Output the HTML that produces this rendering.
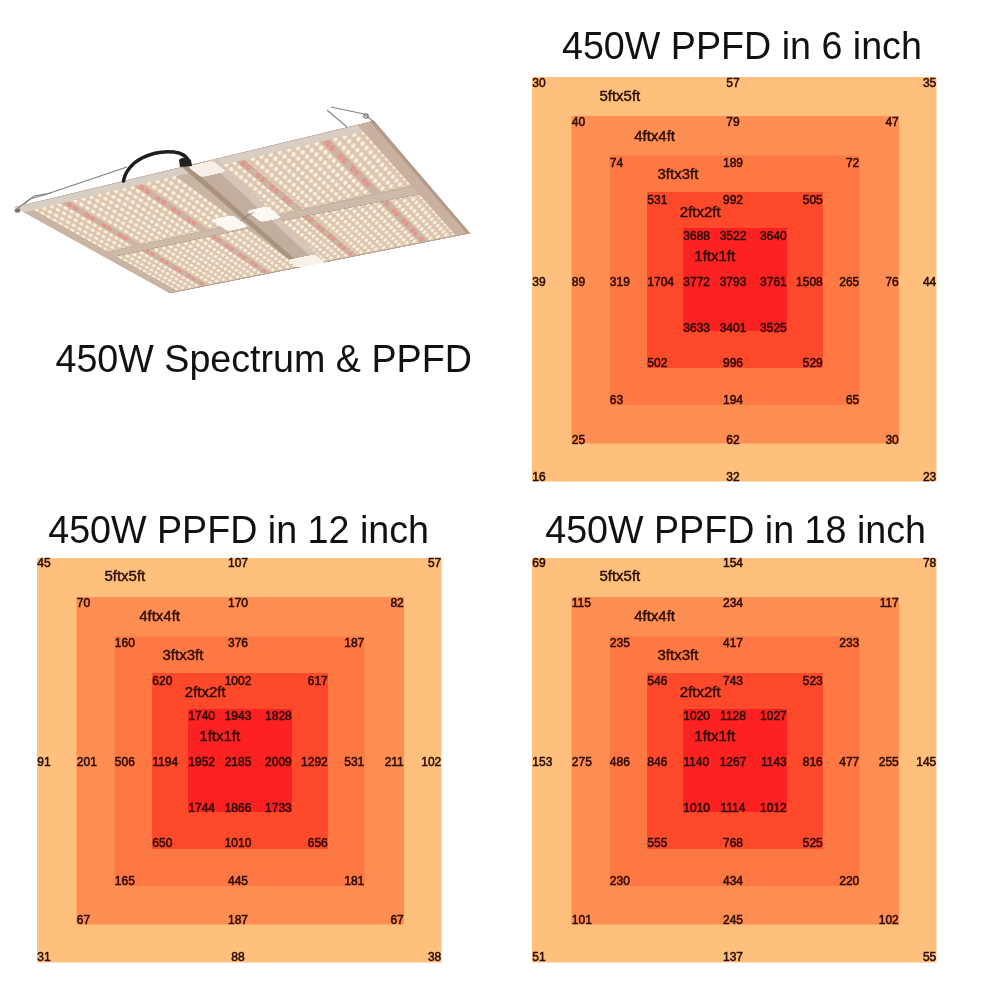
<!DOCTYPE html>
<html><head><meta charset="utf-8"><style>
html,body{margin:0;padding:0;background:#fff;}
body{width:1000px;height:1000px;position:relative;overflow:hidden;font-family:"Liberation Sans",Arial,sans-serif;}
.ch{position:absolute;overflow:visible;}
.ch text{font-family:"Liberation Sans",Arial,sans-serif;}
.n text{font-size:12px;fill:#2a0a02;stroke:#2a0a02;stroke-width:0.5px;}
.nm text{font-size:15px;fill:#2a0a02;stroke:#2a0a02;stroke-width:0.4px;}
#panel{position:absolute;left:0;top:0;width:400px;height:400px;transform-origin:0 0;transform:matrix3d(0.7966528,-0.2495477,0,-0.000276329,0.4892369,0.3875796,0,0.000583746,0,0,1,0,14.0000,207.0000,0,1);}
#panel svg{display:block;filter:blur(0.45px);}
#ov{position:absolute;left:0;top:0;}
#tt{position:absolute;left:0;top:0;}
#tt text{font-family:"Liberation Sans",Arial,sans-serif;font-size:37.65px;fill:#111;}
</style></head><body>
<div id="panel"><svg width="400" height="400" viewBox="0 0 400 400">
<defs>
<radialGradient id="lg"><stop offset="0" stop-color="#fffbf0"/><stop offset="0.6" stop-color="#fdeed6"/><stop offset="1" stop-color="#f7e0c2"/></radialGradient>
<radialGradient id="rg"><stop offset="0" stop-color="#ffb0a8"/><stop offset="0.45" stop-color="#f08078"/><stop offset="1" stop-color="#e0968a" stop-opacity="0"/></radialGradient>
<pattern id="led" x="0" y="2" width="9.7" height="13.5" patternUnits="userSpaceOnUse"><g transform="matrix(0.952,0.694,-1.252,3.194,4.85,6.75)"><circle r="2.05" fill="#f6e5ce"/><circle r="1.8" fill="url(#lg)"/></g></pattern>
</defs>
<rect x="0" y="0" width="400" height="400" fill="#cab5a4"/>
<rect x="0" y="0" width="400" height="20" fill="#d9cec4"/>
<rect x="0" y="0" width="400" height="2.5" fill="#c4b7ac"/>
<rect x="383" y="0" width="17" height="400" fill="#c9b09f"/>
<rect x="396" y="0" width="4" height="400" fill="#b29b8b"/>
<rect x="0" y="395" width="400" height="5" fill="#b8a698"/>
<rect x="13" y="20" width="169" height="174" fill="#dac5b1"/>
<rect x="13" y="20" width="169" height="174" fill="url(#led)"/>
<rect x="47" y="20" width="10" height="174" fill="#cdb3a1"/>
<g transform="matrix(0.952,0.694,-1.252,3.194,52,28.75)"><circle r="2.6" fill="url(#rg)"/></g>
<g transform="matrix(0.952,0.694,-1.252,3.194,52,42.25)"><circle r="2.6" fill="url(#rg)"/></g>
<g transform="matrix(0.952,0.694,-1.252,3.194,52,69.25)"><circle r="2.6" fill="url(#rg)"/></g>
<g transform="matrix(0.952,0.694,-1.252,3.194,52,82.75)"><circle r="2.6" fill="url(#rg)"/></g>
<g transform="matrix(0.952,0.694,-1.252,3.194,52,109.75)"><circle r="2.6" fill="url(#rg)"/></g>
<g transform="matrix(0.952,0.694,-1.252,3.194,52,123.25)"><circle r="2.6" fill="url(#rg)"/></g>
<g transform="matrix(0.952,0.694,-1.252,3.194,52,150.25)"><circle r="2.6" fill="url(#rg)"/></g>
<g transform="matrix(0.952,0.694,-1.252,3.194,52,163.75)"><circle r="2.6" fill="url(#rg)"/></g>
<rect x="134" y="20" width="10" height="174" fill="#cdb3a1"/>
<g transform="matrix(0.952,0.694,-1.252,3.194,139,28.75)"><circle r="2.6" fill="url(#rg)"/></g>
<g transform="matrix(0.952,0.694,-1.252,3.194,139,42.25)"><circle r="2.6" fill="url(#rg)"/></g>
<g transform="matrix(0.952,0.694,-1.252,3.194,139,69.25)"><circle r="2.6" fill="url(#rg)"/></g>
<g transform="matrix(0.952,0.694,-1.252,3.194,139,82.75)"><circle r="2.6" fill="url(#rg)"/></g>
<g transform="matrix(0.952,0.694,-1.252,3.194,139,109.75)"><circle r="2.6" fill="url(#rg)"/></g>
<g transform="matrix(0.952,0.694,-1.252,3.194,139,123.25)"><circle r="2.6" fill="url(#rg)"/></g>
<g transform="matrix(0.952,0.694,-1.252,3.194,139,150.25)"><circle r="2.6" fill="url(#rg)"/></g>
<g transform="matrix(0.952,0.694,-1.252,3.194,139,163.75)"><circle r="2.6" fill="url(#rg)"/></g>
<rect x="214" y="20" width="169" height="174" fill="#dac5b1"/>
<rect x="214" y="20" width="169" height="174" fill="url(#led)"/>
<rect x="249" y="20" width="10" height="174" fill="#cdb3a1"/>
<g transform="matrix(0.952,0.694,-1.252,3.194,254,28.75)"><circle r="2.6" fill="url(#rg)"/></g>
<g transform="matrix(0.952,0.694,-1.252,3.194,254,42.25)"><circle r="2.6" fill="url(#rg)"/></g>
<g transform="matrix(0.952,0.694,-1.252,3.194,254,69.25)"><circle r="2.6" fill="url(#rg)"/></g>
<g transform="matrix(0.952,0.694,-1.252,3.194,254,82.75)"><circle r="2.6" fill="url(#rg)"/></g>
<g transform="matrix(0.952,0.694,-1.252,3.194,254,109.75)"><circle r="2.6" fill="url(#rg)"/></g>
<g transform="matrix(0.952,0.694,-1.252,3.194,254,123.25)"><circle r="2.6" fill="url(#rg)"/></g>
<g transform="matrix(0.952,0.694,-1.252,3.194,254,150.25)"><circle r="2.6" fill="url(#rg)"/></g>
<g transform="matrix(0.952,0.694,-1.252,3.194,254,163.75)"><circle r="2.6" fill="url(#rg)"/></g>
<rect x="339" y="20" width="10" height="174" fill="#cdb3a1"/>
<g transform="matrix(0.952,0.694,-1.252,3.194,344,28.75)"><circle r="2.6" fill="url(#rg)"/></g>
<g transform="matrix(0.952,0.694,-1.252,3.194,344,42.25)"><circle r="2.6" fill="url(#rg)"/></g>
<g transform="matrix(0.952,0.694,-1.252,3.194,344,69.25)"><circle r="2.6" fill="url(#rg)"/></g>
<g transform="matrix(0.952,0.694,-1.252,3.194,344,82.75)"><circle r="2.6" fill="url(#rg)"/></g>
<g transform="matrix(0.952,0.694,-1.252,3.194,344,109.75)"><circle r="2.6" fill="url(#rg)"/></g>
<g transform="matrix(0.952,0.694,-1.252,3.194,344,123.25)"><circle r="2.6" fill="url(#rg)"/></g>
<g transform="matrix(0.952,0.694,-1.252,3.194,344,150.25)"><circle r="2.6" fill="url(#rg)"/></g>
<g transform="matrix(0.952,0.694,-1.252,3.194,344,163.75)"><circle r="2.6" fill="url(#rg)"/></g>
<rect x="214" y="214" width="169" height="181" fill="#dac5b1"/>
<rect x="214" y="214" width="169" height="181" fill="url(#led)"/>
<rect x="249" y="214" width="10" height="181" fill="#cdb3a1"/>
<g transform="matrix(0.952,0.694,-1.252,3.194,254,222.75)"><circle r="2.6" fill="url(#rg)"/></g>
<g transform="matrix(0.952,0.694,-1.252,3.194,254,236.25)"><circle r="2.6" fill="url(#rg)"/></g>
<g transform="matrix(0.952,0.694,-1.252,3.194,254,263.25)"><circle r="2.6" fill="url(#rg)"/></g>
<g transform="matrix(0.952,0.694,-1.252,3.194,254,276.75)"><circle r="2.6" fill="url(#rg)"/></g>
<g transform="matrix(0.952,0.694,-1.252,3.194,254,303.75)"><circle r="2.6" fill="url(#rg)"/></g>
<g transform="matrix(0.952,0.694,-1.252,3.194,254,317.25)"><circle r="2.6" fill="url(#rg)"/></g>
<g transform="matrix(0.952,0.694,-1.252,3.194,254,344.25)"><circle r="2.6" fill="url(#rg)"/></g>
<g transform="matrix(0.952,0.694,-1.252,3.194,254,357.75)"><circle r="2.6" fill="url(#rg)"/></g>
<g transform="matrix(0.952,0.694,-1.252,3.194,254,384.75)"><circle r="2.6" fill="url(#rg)"/></g>
<rect x="339" y="214" width="10" height="181" fill="#cdb3a1"/>
<g transform="matrix(0.952,0.694,-1.252,3.194,344,222.75)"><circle r="2.6" fill="url(#rg)"/></g>
<g transform="matrix(0.952,0.694,-1.252,3.194,344,236.25)"><circle r="2.6" fill="url(#rg)"/></g>
<g transform="matrix(0.952,0.694,-1.252,3.194,344,263.25)"><circle r="2.6" fill="url(#rg)"/></g>
<g transform="matrix(0.952,0.694,-1.252,3.194,344,276.75)"><circle r="2.6" fill="url(#rg)"/></g>
<g transform="matrix(0.952,0.694,-1.252,3.194,344,303.75)"><circle r="2.6" fill="url(#rg)"/></g>
<g transform="matrix(0.952,0.694,-1.252,3.194,344,317.25)"><circle r="2.6" fill="url(#rg)"/></g>
<g transform="matrix(0.952,0.694,-1.252,3.194,344,344.25)"><circle r="2.6" fill="url(#rg)"/></g>
<g transform="matrix(0.952,0.694,-1.252,3.194,344,357.75)"><circle r="2.6" fill="url(#rg)"/></g>
<g transform="matrix(0.952,0.694,-1.252,3.194,344,384.75)"><circle r="2.6" fill="url(#rg)"/></g>
<rect x="13" y="214" width="169" height="181" fill="#dac5b1"/>
<rect x="13" y="214" width="169" height="181" fill="url(#led)"/>
<rect x="47" y="214" width="10" height="181" fill="#cdb3a1"/>
<g transform="matrix(0.952,0.694,-1.252,3.194,52,222.75)"><circle r="2.6" fill="url(#rg)"/></g>
<g transform="matrix(0.952,0.694,-1.252,3.194,52,236.25)"><circle r="2.6" fill="url(#rg)"/></g>
<g transform="matrix(0.952,0.694,-1.252,3.194,52,263.25)"><circle r="2.6" fill="url(#rg)"/></g>
<g transform="matrix(0.952,0.694,-1.252,3.194,52,276.75)"><circle r="2.6" fill="url(#rg)"/></g>
<g transform="matrix(0.952,0.694,-1.252,3.194,52,303.75)"><circle r="2.6" fill="url(#rg)"/></g>
<g transform="matrix(0.952,0.694,-1.252,3.194,52,317.25)"><circle r="2.6" fill="url(#rg)"/></g>
<g transform="matrix(0.952,0.694,-1.252,3.194,52,344.25)"><circle r="2.6" fill="url(#rg)"/></g>
<g transform="matrix(0.952,0.694,-1.252,3.194,52,357.75)"><circle r="2.6" fill="url(#rg)"/></g>
<g transform="matrix(0.952,0.694,-1.252,3.194,52,384.75)"><circle r="2.6" fill="url(#rg)"/></g>
<rect x="134" y="214" width="10" height="181" fill="#cdb3a1"/>
<g transform="matrix(0.952,0.694,-1.252,3.194,139,222.75)"><circle r="2.6" fill="url(#rg)"/></g>
<g transform="matrix(0.952,0.694,-1.252,3.194,139,236.25)"><circle r="2.6" fill="url(#rg)"/></g>
<g transform="matrix(0.952,0.694,-1.252,3.194,139,263.25)"><circle r="2.6" fill="url(#rg)"/></g>
<g transform="matrix(0.952,0.694,-1.252,3.194,139,276.75)"><circle r="2.6" fill="url(#rg)"/></g>
<g transform="matrix(0.952,0.694,-1.252,3.194,139,303.75)"><circle r="2.6" fill="url(#rg)"/></g>
<g transform="matrix(0.952,0.694,-1.252,3.194,139,317.25)"><circle r="2.6" fill="url(#rg)"/></g>
<g transform="matrix(0.952,0.694,-1.252,3.194,139,344.25)"><circle r="2.6" fill="url(#rg)"/></g>
<g transform="matrix(0.952,0.694,-1.252,3.194,139,357.75)"><circle r="2.6" fill="url(#rg)"/></g>
<g transform="matrix(0.952,0.694,-1.252,3.194,139,384.75)"><circle r="2.6" fill="url(#rg)"/></g>
<path d="M13 200 L250 199 L383 202 L383 228 L250 219 L13 217 Z" fill="#cdbaa9"/>
<path d="M13 216.5 L250 218.5 L383 227.5" stroke="#a99584" stroke-width="1.6" fill="none"/>
<path d="M198 0 L236 0 L216 400 L180 400 Z" fill="#c3ad9c"/>
<path d="M198 0 L205 0 L187 400 L180 400 Z" fill="#a9937f"/>
<path d="M226 0 L236 0 L216 400 L207 400 Z" fill="#d4c5b7"/>
<rect x="160" y="165" width="26" height="49" rx="6" fill="#fdf9f2"/>
<rect x="204" y="162" width="25" height="46" rx="6" fill="#fdf9f2"/>
<path d="M186 190 L198 178 L209 172" stroke="#8d7f74" stroke-width="1.6" fill="none"/>
<rect x="180" y="360" width="36" height="40" rx="5" fill="#f7f1e8"/>
<rect x="203" y="3" width="28" height="36" rx="5" fill="#f6efe6"/>
</svg></div>
<svg id="ov" width="1000" height="320" viewBox="0 0 1000 320">
<path d="M18 208 L30 199 L44 195 L127 167" stroke="#85807b" stroke-width="1.3" fill="none"/>
<path d="M24 204 L34 196 L51 193" stroke="#85807b" stroke-width="1.2" fill="none"/>
<ellipse cx="17.5" cy="210.5" rx="2.8" ry="2.2" fill="#7a716a"/>
<path d="M123.5 181 C125 172 132 163 142 158 C152 153 164 151 174 152 C182 153 187 156 189 162" stroke="#1e1e1e" stroke-width="3.6" fill="none" stroke-linecap="round"/>
<path d="M179 160 C181 157 188 157 191 160 L192 166 L180 167 Z" fill="#222"/>
<path d="M327 110 L347 127" stroke="#8a8580" stroke-width="1.2" fill="none"/>
<path d="M331 107 L364 114 L374 122" stroke="#8a8580" stroke-width="1.2" fill="none"/>
<circle cx="366" cy="116" r="2.2" fill="none" stroke="#7d7670" stroke-width="1.2"/>
</svg>
<svg id="tt" width="1000" height="1000" viewBox="0 0 1000 1000">
<text transform="translate(55.5,372.3) scale(1,1.04)">450W Spectrum &amp; PPFD</text>
<text transform="translate(562,59.1) scale(1,1.04)">450W PPFD in 6 inch</text>
<text transform="translate(48.2,543.2) scale(1,1.04)">450W PPFD in 12 inch</text>
<text transform="translate(545.2,543.2) scale(1,1.04)">450W PPFD in 18 inch</text>
</svg>
<svg class="ch" style="left:532px;top:77px" width="405" height="405" viewBox="0 0 405 405">
<rect x="0" y="0" width="404.5" height="404.5" fill="#FEC07C"/>
<rect x="39.5" y="39" width="327.5" height="327.5" fill="#FE8E52"/>
<rect x="77.5" y="78.5" width="250.0" height="249.5" fill="#FE7843"/>
<rect x="115" y="115" width="176" height="176" fill="#FE4A2B"/>
<rect x="151" y="151" width="104" height="103" fill="#FE2121"/>
<g class="n" transform="translate(0,0)">
<text x="0.3" y="10">30</text>
<text x="201" y="10" text-anchor="middle">57</text>
<text x="404.3" y="10" text-anchor="end">35</text>
<text x="0.3" y="208.6">39</text>
<text x="404.3" y="208.6" text-anchor="end">44</text>
<text x="0.3" y="404">16</text>
<text x="201" y="404" text-anchor="middle">32</text>
<text x="404.3" y="404" text-anchor="end">23</text>
<text x="39.8" y="49.3">40</text>
<text x="201" y="49.3" text-anchor="middle">79</text>
<text x="366.8" y="49.3" text-anchor="end">47</text>
<text x="39.8" y="208.6">89</text>
<text x="366.8" y="208.6" text-anchor="end">76</text>
<text x="39.8" y="366.9">25</text>
<text x="201" y="366.9" text-anchor="middle">62</text>
<text x="366.8" y="366.9" text-anchor="end">30</text>
<text x="77.8" y="89.5">74</text>
<text x="201" y="89.5" text-anchor="middle">189</text>
<text x="327.3" y="89.5" text-anchor="end">72</text>
<text x="77.8" y="208.6">319</text>
<text x="327.3" y="208.6" text-anchor="end">265</text>
<text x="77.8" y="327.4">63</text>
<text x="201" y="327.4" text-anchor="middle">194</text>
<text x="327.3" y="327.4" text-anchor="end">65</text>
<text x="115.3" y="127.2">531</text>
<text x="201" y="127.2" text-anchor="middle">992</text>
<text x="290.8" y="127.2" text-anchor="end">505</text>
<text x="115.3" y="208.6">1704</text>
<text x="290.8" y="208.6" text-anchor="end">1508</text>
<text x="115.3" y="289.6">502</text>
<text x="201" y="289.6" text-anchor="middle">996</text>
<text x="290.8" y="289.6" text-anchor="end">529</text>
<text x="151.3" y="162.5">3688</text>
<text x="201" y="162.5" text-anchor="middle">3522</text>
<text x="254.8" y="162.5" text-anchor="end">3640</text>
<text x="151.3" y="208.6">3772</text>
<text x="201" y="208.6" text-anchor="middle">3793</text>
<text x="254.8" y="208.6" text-anchor="end">3761</text>
<text x="151.3" y="254.5">3633</text>
<text x="201" y="254.5" text-anchor="middle">3401</text>
<text x="254.8" y="254.5" text-anchor="end">3525</text>
</g><g class="nm" transform="translate(0,0)">
<text x="67.4" y="24">5ftx5ft</text>
<text x="102.2" y="64.1">4ftx4ft</text>
<text x="125.5" y="102.3">3ftx3ft</text>
<text x="147.8" y="139.5">2ftx2ft</text>
<text x="162.3" y="183.8">1ftx1ft</text>
</g></svg><svg class="ch" style="left:36.5px;top:558px" width="405" height="405" viewBox="0 0 405 405">
<rect x="0" y="0" width="404.5" height="404.5" fill="#FEC07C"/>
<rect x="39.5" y="39" width="327.5" height="327.5" fill="#FE8E52"/>
<rect x="77.5" y="78.5" width="250.0" height="249.5" fill="#FE7843"/>
<rect x="115" y="115" width="176" height="176" fill="#FE4A2B"/>
<rect x="151" y="151" width="104" height="103" fill="#FE2121"/>
<g class="n" transform="translate(0,-0.6)">
<text x="0.3" y="10">45</text>
<text x="201" y="10" text-anchor="middle">107</text>
<text x="404.3" y="10" text-anchor="end">57</text>
<text x="0.3" y="208.6">91</text>
<text x="404.3" y="208.6" text-anchor="end">102</text>
<text x="0.3" y="404">31</text>
<text x="201" y="404" text-anchor="middle">88</text>
<text x="404.3" y="404" text-anchor="end">38</text>
<text x="39.8" y="49.3">70</text>
<text x="201" y="49.3" text-anchor="middle">170</text>
<text x="366.8" y="49.3" text-anchor="end">82</text>
<text x="39.8" y="208.6">201</text>
<text x="366.8" y="208.6" text-anchor="end">211</text>
<text x="39.8" y="366.9">67</text>
<text x="201" y="366.9" text-anchor="middle">187</text>
<text x="366.8" y="366.9" text-anchor="end">67</text>
<text x="77.8" y="89.5">160</text>
<text x="201" y="89.5" text-anchor="middle">376</text>
<text x="327.3" y="89.5" text-anchor="end">187</text>
<text x="77.8" y="208.6">506</text>
<text x="327.3" y="208.6" text-anchor="end">531</text>
<text x="77.8" y="327.4">165</text>
<text x="201" y="327.4" text-anchor="middle">445</text>
<text x="327.3" y="327.4" text-anchor="end">181</text>
<text x="115.3" y="127.2">620</text>
<text x="201" y="127.2" text-anchor="middle">1002</text>
<text x="290.8" y="127.2" text-anchor="end">617</text>
<text x="115.3" y="208.6">1194</text>
<text x="290.8" y="208.6" text-anchor="end">1292</text>
<text x="115.3" y="289.6">650</text>
<text x="201" y="289.6" text-anchor="middle">1010</text>
<text x="290.8" y="289.6" text-anchor="end">656</text>
<text x="151.3" y="162.5">1740</text>
<text x="201" y="162.5" text-anchor="middle">1943</text>
<text x="254.8" y="162.5" text-anchor="end">1828</text>
<text x="151.3" y="208.6">1952</text>
<text x="201" y="208.6" text-anchor="middle">2185</text>
<text x="254.8" y="208.6" text-anchor="end">2009</text>
<text x="151.3" y="254.5">1744</text>
<text x="201" y="254.5" text-anchor="middle">1866</text>
<text x="254.8" y="254.5" text-anchor="end">1733</text>
</g><g class="nm" transform="translate(0,-0.6)">
<text x="67.4" y="24">5ftx5ft</text>
<text x="102.2" y="64.1">4ftx4ft</text>
<text x="125.5" y="102.3">3ftx3ft</text>
<text x="147.8" y="139.5">2ftx2ft</text>
<text x="162.3" y="183.8">1ftx1ft</text>
</g></svg><svg class="ch" style="left:532px;top:558px" width="405" height="405" viewBox="0 0 405 405">
<rect x="0" y="0" width="404.5" height="404.5" fill="#FEC07C"/>
<rect x="39.5" y="39" width="327.5" height="327.5" fill="#FE8E52"/>
<rect x="77.5" y="78.5" width="250.0" height="249.5" fill="#FE7843"/>
<rect x="115" y="115" width="176" height="176" fill="#FE4A2B"/>
<rect x="151" y="151" width="104" height="103" fill="#FE2121"/>
<g class="n" transform="translate(0,-0.6)">
<text x="0.3" y="10">69</text>
<text x="201" y="10" text-anchor="middle">154</text>
<text x="404.3" y="10" text-anchor="end">78</text>
<text x="0.3" y="208.6">153</text>
<text x="404.3" y="208.6" text-anchor="end">145</text>
<text x="0.3" y="404">51</text>
<text x="201" y="404" text-anchor="middle">137</text>
<text x="404.3" y="404" text-anchor="end">55</text>
<text x="39.8" y="49.3">115</text>
<text x="201" y="49.3" text-anchor="middle">234</text>
<text x="366.8" y="49.3" text-anchor="end">117</text>
<text x="39.8" y="208.6">275</text>
<text x="366.8" y="208.6" text-anchor="end">255</text>
<text x="39.8" y="366.9">101</text>
<text x="201" y="366.9" text-anchor="middle">245</text>
<text x="366.8" y="366.9" text-anchor="end">102</text>
<text x="77.8" y="89.5">235</text>
<text x="201" y="89.5" text-anchor="middle">417</text>
<text x="327.3" y="89.5" text-anchor="end">233</text>
<text x="77.8" y="208.6">486</text>
<text x="327.3" y="208.6" text-anchor="end">477</text>
<text x="77.8" y="327.4">230</text>
<text x="201" y="327.4" text-anchor="middle">434</text>
<text x="327.3" y="327.4" text-anchor="end">220</text>
<text x="115.3" y="127.2">546</text>
<text x="201" y="127.2" text-anchor="middle">743</text>
<text x="290.8" y="127.2" text-anchor="end">523</text>
<text x="115.3" y="208.6">846</text>
<text x="290.8" y="208.6" text-anchor="end">816</text>
<text x="115.3" y="289.6">555</text>
<text x="201" y="289.6" text-anchor="middle">768</text>
<text x="290.8" y="289.6" text-anchor="end">525</text>
<text x="151.3" y="162.5">1020</text>
<text x="201" y="162.5" text-anchor="middle">1128</text>
<text x="254.8" y="162.5" text-anchor="end">1027</text>
<text x="151.3" y="208.6">1140</text>
<text x="201" y="208.6" text-anchor="middle">1267</text>
<text x="254.8" y="208.6" text-anchor="end">1143</text>
<text x="151.3" y="254.5">1010</text>
<text x="201" y="254.5" text-anchor="middle">1114</text>
<text x="254.8" y="254.5" text-anchor="end">1012</text>
</g><g class="nm" transform="translate(0,-0.6)">
<text x="67.4" y="24">5ftx5ft</text>
<text x="102.2" y="64.1">4ftx4ft</text>
<text x="125.5" y="102.3">3ftx3ft</text>
<text x="147.8" y="139.5">2ftx2ft</text>
<text x="162.3" y="183.8">1ftx1ft</text>
</g></svg>
</body></html>
